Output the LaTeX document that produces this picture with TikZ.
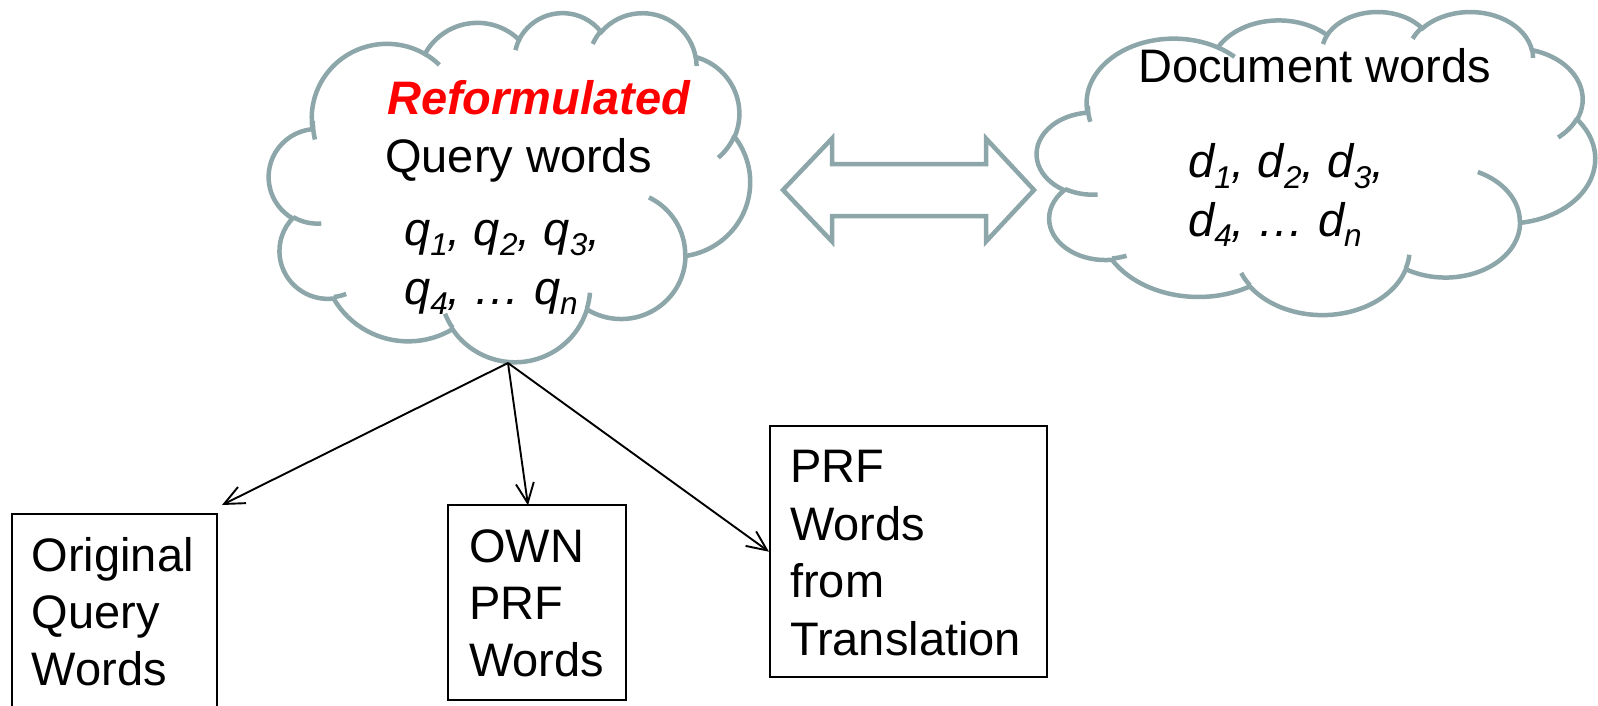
\documentclass[tikz,border=0pt]{standalone}
\usepackage{fontspec}
\setmainfont{Liberation Sans}
\usetikzlibrary{arrows.meta}

\definecolor{cloudgray}{RGB}{140,166,169}
\definecolor{accentred}{RGB}{255,0,0}

% lowered, smaller index after a letter
\newcommand\lowidx[1]{\raisebox{-10pt}{\fontsize{31.5}{31.5}\selectfont #1}}

\tikzset{
  outline/.style={draw=cloudgray, line width=4.5pt, line join=miter},
  wordbox/.style={draw=black, line width=2pt, inner sep=0pt, rectangle},
  link/.style={draw=black, line width=1.9pt, -{Straight Barb[length=20pt,width=18pt]}},
  wordtext/.style={inner sep=0pt, anchor=base west, align=left, font=\fontsize{47}{57}\selectfont},
}

% Cloud outline in a 432 x 432 frame, scaled to #3 x #4 with its corner at (#1,#2).
% Each arc: x radius / y radius / start angle / sweep (angles measured from the centre).
\newcommand\drawcloud[5]{%
  \begin{scope}[shift={(#1,#2)}, xscale=#3/432, yscale=#4/432]
    \draw[outline, fill=white] (39,143.7)
      foreach \cwr/\chr/\cst/\csw
        [evaluate={\cst as \cts using atan2(\cwr*sin(\cst),\chr*cos(\cst))},
         evaluate={\csw as \cdt using mod(atan2(\cwr*sin(\cst+\csw),\chr*cos(\cst+\csw))-atan2(\cwr*sin(\cst),\chr*cos(\cst))+720,360)}]
      in {67.53/91.90/-190.48748/123.78053,
          53.33/72.67/-144.10238/89.94523,
          43.65/59.45/-145.80792/99.72302,
          48.57/65.95/-130.98607/117.24173,
          53.33/72.73/-78.70888/109.02692,
          67.75/92.20/-46.26725/130.269,
          57.85/78.67/0.62502/114.03333,
          67.52/92.15/22.4516/115.17255,
          77.20/105.43/66.24263/75.71102,
          43.60/59.18/-274.94208/146.73557,
          43.45/59.45/-246.8285/152.51885}
      { arc[start angle=\cts, delta angle=\cdt, x radius=\cwr, y radius=\chr] } -- cycle;
    \draw[outline, line cap=butt]
      foreach \cpx/\cpy/\cwr/\chr/\cst/\csw
        [evaluate={\cst as \cts using atan2(\cwr*sin(\cst),\chr*cos(\cst))},
         evaluate={\csw as \cdt using mod(atan2(\cwr*sin(\cst+\csw),\chr*cos(\cst+\csw))-atan2(\cwr*sin(\cst),\chr*cos(\cst))+720,360)}]
      in {46.93/261.77/43.45/59.45/86.742/26.4295,
          69.28/348.99/43.60/59.18/73.61047/11.44747,
          164.78/390.90/67.52/92.15/137.62415/14.0811,
          288.27/347.51/67.52/92.15/6.45327/15.99835,
          341.29/229.54/57.85/78.67/-70.29235/70.91737,
          417.98/153.54/53.33/72.73/30.31803/27.7515,
          383.24/54.26/48.57/65.95/-13.74433/14.8589,
          290.78/39.52/48.57/65.95/-149.18145/18.19537,
          221.41/47.20/43.65/59.45/-163.49427/17.68635,
          140.00/51.92/67.53/91.90/-66.70695/12.31935,
          41.27/157.89/67.53/91.90/162.03627/19.43045}
      { (\cpx,\cpy) arc[start angle=\cts, delta angle=\cdt, x radius=\cwr, y radius=\chr] };
    \coordinate (#5) at (216,216);
  \end{scope}}

\begin{document}
\begin{tikzpicture}[x=1pt, y=1pt, yscale=-1]
  \useasboundingbox (0,0) rectangle (1598,706);
  \clip (0,0) rectangle (1598,706);

  % the two word clouds
  \drawcloud{269}{12}{481}{349}{querycloud}
  \drawcloud{1037}{11}{558}{303}{doccloud}

  % double-headed block arrow between the clouds
  \draw[outline] (783,190) -- (832,138.5) -- (832,164) -- (986,164) -- (986,138.5)
    -- (1034,190) -- (986,241.5) -- (986,216) -- (832,216) -- (832,241.5) -- cycle;

  % query cloud text
  \node[wordtext, text=accentred] (reform) at (387,115) {\bfseries\itshape Reformulated};
  \node[wordtext] (qwords) at (385,172) {Query words};
  \node[wordtext] (qlist1) at (404,245) {\itshape q\lowidx{1}, q\lowidx{2}, q\lowidx{3},};
  \node[wordtext] (qlist2) at (404,304) {\itshape q\lowidx{4}, … q\lowidx{n}};

  % document cloud text
  \node[wordtext] (dwords) at (1138,83) {Document words};
  \node[wordtext] (dlist1) at (1188,178) {\itshape d\lowidx{1}, d\lowidx{2}, d\lowidx{3},};
  \node[wordtext] (dlist2) at (1188,236) {\itshape d\lowidx{4}, … d\lowidx{n}};

  % the three word sources
  \node[wordbox, minimum width=205pt, minimum height=215pt] (origbox) at (114,621) {};
  \node[wordbox, minimum width=178pt, minimum height=195pt] (ownbox) at (537.3,602.7) {};
  \node[wordbox, minimum width=276.7pt, minimum height=250.5pt] (prfbox) at (908.3,551.7) {};

  % multi-line labels: placed by the baseline of their last line
  \node[wordtext] (origtxt) at (31.5,685) {Original\\Query\\Words};
  \node[wordtext] (owntxt) at (469,676) {OWN\\PRF\\Words};
  \node[wordtext, font=\fontsize{47}{57.5}\selectfont] (prftxt) at (790,655) {PRF\\Words\\from\\Translation};

  % links from the query cloud
  \coordinate (qsrc) at (508,363);
  \coordinate (origtip) at (222,505);
  \coordinate (owntip) at (528,505.3);
  \draw[link] (qsrc) -- (origtip);
  \draw[link] (qsrc) -- (owntip);
  \draw[link] (qsrc) -- (prfbox.west);
\end{tikzpicture}
\end{document}
